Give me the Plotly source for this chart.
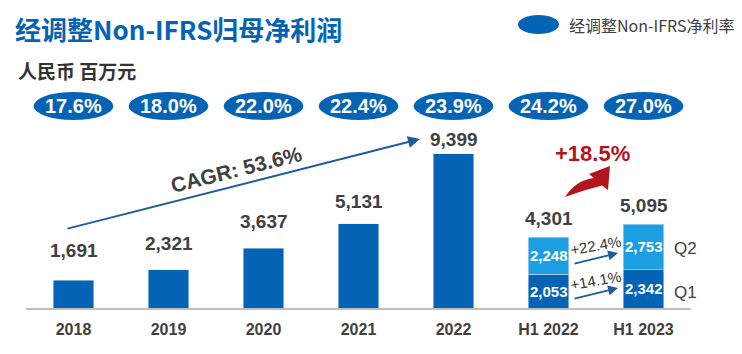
import plotly.graph_objects as go

# ---------------- data ----------------
years = ["2018", "2019", "2020", "2021", "2022"]
annual_profit = [1691, 2321, 3637, 5131, 9399]
halves = ["H1 2022", "H1 2023"]
q1_profit = [2053, 2342]
q2_profit = [2248, 2753]
h1_total = [4301, 5095]
categories = years + halves
margin_rates = ["17.6%", "18.0%", "22.0%", "22.4%", "23.9%", "24.2%", "27.0%"]
cagr_text = "CAGR: 53.6%"
h1_growth = "+18.5%"
q_growth = ["+14.1%", "+22.4%"]
q_names = ["Q1", "Q2"]

title_text = "经调整Non-IFRS归母净利润"
unit_text = "人民币 百万元"
legend_text = "经调整Non-IFRS净利率"

# ---------------- style ----------------
W, H = 742, 354
ML, MR, MT, MB = 26, 51, 0, 46
PX_PER_UNIT = 0.01643
PLOT_H = H - MT - MB
PLOT_W = W - ML - MR
YMAX = PLOT_H / PX_PER_UNIT

BLUE = "#0563B5"
LIGHT = "#1C9FE2"
DARK_TXT = "#404040"
RED = "#B2151C"
ARROW_BLUE = "#1F5A9E"
LAT = "Liberation Sans, Arial, sans-serif"
CJK = "Noto Sans CJK SC, sans-serif"


def px(x):  # pixel x -> paper
    return (x - ML) / PLOT_W


def py(y):  # pixel y -> paper
    return (H - MB - y) / PLOT_H


idx_years = list(range(len(years)))
idx_halves = [len(years) + i for i in range(len(halves))]

fig = go.Figure()
fig.add_trace(go.Bar(x=years, y=annual_profit, marker_color=BLUE, width=0.43,
                     hoverinfo="skip", showlegend=False))
fig.add_trace(go.Bar(x=halves, y=q1_profit, marker_color=BLUE, width=0.43,
                     hoverinfo="skip", showlegend=False))
fig.add_trace(go.Bar(x=halves, y=q2_profit, marker_color=LIGHT, width=0.43,
                     hoverinfo="skip", showlegend=False))

ann = []
shapes = []


def note(**kw):
    base = dict(showarrow=False, xanchor="center", yanchor="middle")
    base.update(kw)
    ann.append(base)


# value labels above bars
label_gap = [17, 14, 14, 10, 2]
for i, v in zip(idx_years, annual_profit):
    note(x=i, y=v, text=f"{v:,}", yanchor="bottom", yshift=label_gap[i],
         font=dict(family=LAT, size=19, color=DARK_TXT, weight="bold"))
for i, v in zip(idx_halves, h1_total):
    note(x=i, y=v, text=f"{v:,}", yanchor="bottom", yshift=6,
         font=dict(family=LAT, size=19, color=DARK_TXT, weight="bold"))

# stacked segment labels
for i, a, b in zip(idx_halves, q1_profit, q2_profit):
    note(x=i, y=a / 2, text=f"{a:,}",
         font=dict(family=LAT, size=15, color="white", weight="bold"))
    note(x=i, y=a + b / 2, text=f"{b:,}",
         font=dict(family=LAT, size=15, color="white", weight="bold"))

# margin-rate ellipses
for i, r in enumerate(margin_rates):
    shapes.append(dict(type="circle", xref="x", yref="paper",
                       x0=i - 0.42, x1=i + 0.42, y0=py(120), y1=py(92),
                       fillcolor=BLUE, line=dict(width=0)))
    note(x=i, y=py(106), yref="paper", text=r,
         font=dict(family=LAT, size=20, color="white", weight="bold"))

# title, unit, legend
note(x=px(13), y=py(29), xref="paper", yref="paper", text=title_text, xanchor="left",
     font=dict(family=CJK, size=26, color=BLUE, weight="bold"))
note(x=px(16), y=py(70), xref="paper", yref="paper", text=unit_text, xanchor="left",
     font=dict(family=CJK, size=19, color="#333333", weight="bold"))
shapes.append(dict(type="circle", xref="paper", yref="paper",
                   x0=px(518), x1=px(559), y0=py(34), y1=py(15),
                   fillcolor=BLUE, line=dict(width=0)))
note(x=px(567), y=py(25), xref="paper", yref="paper", text=legend_text, xanchor="left",
     font=dict(family=CJK, size=16, color=DARK_TXT))

# CAGR arrow + text
ann.append(dict(x=px(420), y=py(139), xref="paper", yref="paper",
                ax=66 - 420, ay=229 - 139,
                showarrow=True, arrowhead=2, arrowsize=1.2, arrowwidth=2,
                arrowcolor=ARROW_BLUE, text=""))
note(x=px(236), y=py(169), xref="paper", yref="paper", text=cagr_text, textangle=-14,
     font=dict(family=LAT, size=21, color=DARK_TXT, weight="bold"))

# +18.5% with curved red arrow
note(x=px(592), y=py(153), xref="paper", yref="paper", text=h1_growth,
     font=dict(family=LAT, size=22, color=RED, weight="bold"))
path = f"M {px(565)},{py(197)} Q {px(576)},{py(180)} {px(594)},{py(178)} " \
       f"L {px(589)},{py(174)} L {px(610)},{py(166)} L {px(608)},{py(190)} " \
       f"L {px(602)},{py(185.5)} Q {px(584)},{py(190)} {px(565)},{py(197)} Z"
shapes.append(dict(type="path", xref="paper", yref="paper", path=path,
                   fillcolor=RED, line=dict(width=0)))

# quarter growth arrows
for (tail_y, tip_y, txt_y, t) in [(299, 288, 280, q_growth[0]), (264, 253, 245, q_growth[1])]:
    ann.append(dict(x=px(618), y=py(tip_y), xref="paper", yref="paper",
                    ax=573 - 618, ay=tail_y - tip_y, showarrow=True, arrowhead=2,
                    arrowsize=1.1, arrowwidth=1.8, arrowcolor=ARROW_BLUE, text=""))
    note(x=px(595), y=py(txt_y), xref="paper", yref="paper", text=t, textangle=-10,
         font=dict(family=LAT, size=15, color="#333333"))

# Q labels
for name, yy in zip(q_names, [292, 248]):
    note(x=px(685), y=py(yy), xref="paper", yref="paper", text=name,
         font=dict(family=LAT, size=17, color=DARK_TXT))

fig.update_layout(
    width=W, height=H, margin=dict(l=ML, r=MR, t=MT, b=MB),
    barmode="stack",
    plot_bgcolor="white", paper_bgcolor="white",
    xaxis=dict(categoryorder="array", categoryarray=categories,
               range=[-0.5, len(categories) - 0.5],
               showline=True, linecolor="#BFBFBF", linewidth=1.5, ticks="",
               showgrid=False, ticklabelstandoff=6,
               tickfont=dict(family=LAT, size=16, color=DARK_TXT, weight="bold")),
    yaxis=dict(range=[0, YMAX], visible=False, showgrid=False),
    annotations=ann, shapes=shapes, showlegend=False,
)
fig.write_html("out.html")
